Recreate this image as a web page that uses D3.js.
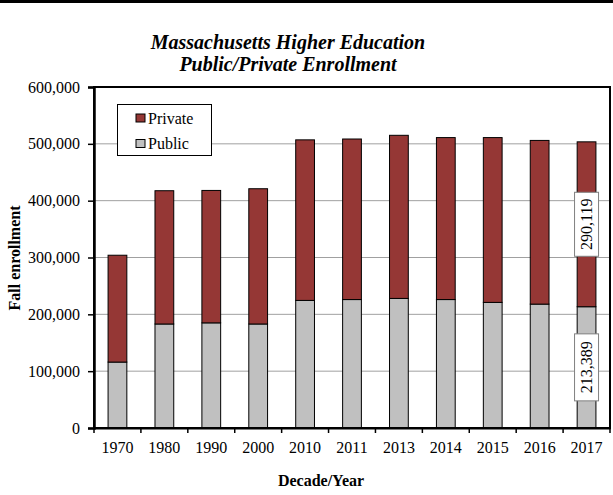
<!DOCTYPE html>
<html><head><meta charset="utf-8">
<script src="https://cdn.jsdelivr.net/npm/d3@7"></script>
<style>body{margin:0;background:#fff}svg{display:block}</style>
</head><body>
<script>
const years = ["1970","1980","1990","2000","2010","2011","2013","2014","2015","2016","2017"];
const publicVals = [116000,183000,185000,183000,224500,226000,228000,226000,221000,218000,213389];
const privateVals = [188000,234500,233000,238000,282500,282500,287000,285000,290000,288000,290119];
const yTicks = [0,100000,200000,300000,400000,500000,600000];
const seriesNames = ["Private","Public"];
const colors = {Private:"#953735", Public:"#c0c0c0"};
const titleLines = ["Massachusetts Higher Education","Public/Private Enrollment"];

const W=613,H=495;
const m={left:94,right:610,top:87,bottom:428};
const font="'Liberation Serif','Times New Roman',serif";
const svg=d3.select("body").append("svg").attr("width",W).attr("height",H);
svg.append("rect").attr("width",W).attr("height",H).attr("fill","#fff");
svg.append("rect").attr("x",0).attr("y",0).attr("width",W).attr("height",3).attr("fill","#000");

const x=d3.scaleBand().domain(years).range([m.left,m.right]).paddingInner(0.6).paddingOuter(0.3);
const y=d3.scaleLinear().domain([0,600000]).range([m.bottom,m.top]);

// gridlines
svg.append("g").selectAll("line").data(yTicks.slice(1,-1)).join("line")
  .attr("x1",m.left).attr("x2",m.right).attr("y1",d=>y(d)).attr("y2",d=>y(d))
  .attr("stroke","#a0a0a0").attr("stroke-width",1);

// bars
const data=years.map((yr,i)=>({yr,pub:publicVals[i],priv:privateVals[i]}));
const g=svg.append("g");
g.selectAll("rect.pub").data(data).join("rect").attr("class","pub")
  .attr("x",d=>x(d.yr)).attr("width",x.bandwidth())
  .attr("y",d=>y(d.pub)).attr("height",d=>y(0)-y(d.pub))
  .attr("fill",colors.Public).attr("stroke","#000").attr("stroke-width",1);
g.selectAll("rect.priv").data(data).join("rect").attr("class","priv")
  .attr("x",d=>x(d.yr)).attr("width",x.bandwidth())
  .attr("y",d=>y(d.pub+d.priv)).attr("height",d=>y(d.pub)-y(d.pub+d.priv))
  .attr("fill",colors.Private).attr("stroke","#000").attr("stroke-width",1);

// plot frame
svg.append("rect").attr("x",m.left).attr("y",m.top).attr("width",m.right-m.left).attr("height",m.bottom-m.top)
  .attr("fill","none").attr("stroke","#000").attr("stroke-width",2);

// y axis
const yAxis=d3.axisLeft(y).tickValues(yTicks).tickSize(6).tickPadding(8).tickFormat(d3.format(","));
const ya=svg.append("g").attr("transform",`translate(${m.left},0)`).call(yAxis);
ya.select(".domain").attr("stroke","#000").attr("stroke-width",2.5);
ya.selectAll(".tick line").attr("stroke","#000").attr("stroke-width",1.5);
ya.selectAll("text").attr("font-family",font).attr("font-size",16).attr("fill","#000");

// x axis with ticks at band boundaries
const xa=svg.append("g").attr("transform",`translate(0,${m.bottom})`).call(d3.axisBottom(x).tickSize(0).tickPadding(14));
xa.select(".domain").attr("stroke","#000").attr("stroke-width",2);
xa.selectAll("text").attr("font-family",font).attr("font-size",16).attr("fill","#000");
const bounds=d3.range(years.length+1).map(i=>m.left+i*(m.right-m.left)/years.length);
svg.append("g").selectAll("line").data(bounds).join("line")
  .attr("x1",d=>d).attr("x2",d=>d).attr("y1",m.bottom).attr("y2",m.bottom+5)
  .attr("stroke","#000").attr("stroke-width",1.5);

// data labels on last bar
const last=data[data.length-1];
const cx=x(last.yr)+x.bandwidth()/2;
const labs=[{v:last.priv,cy:(y(last.pub+last.priv)+y(last.pub))/2,h:64},{v:last.pub,cy:(y(last.pub)+y(0))/2,h:67}];
labs.forEach(l=>{
  svg.append("rect").attr("x",cx-12).attr("y",l.cy-l.h/2).attr("width",24).attr("height",l.h)
    .attr("fill","#fff").attr("stroke","#808080").attr("stroke-width",1);
  svg.append("text").attr("transform",`translate(${cx+5.5},${l.cy}) rotate(-90)`)
    .attr("text-anchor","middle").attr("font-family",font).attr("font-size",16).attr("fill","#000")
    .text(d3.format(",")(l.v));
});

// legend
svg.append("rect").attr("x",117.5).attr("y",104.5).attr("width",94).attr("height",51)
  .attr("fill","#fff").attr("stroke","#000").attr("stroke-width",1);
seriesNames.forEach((s,i)=>{
  const yy=114+i*25.5;
  svg.append("rect").attr("x",136).attr("y",yy).attr("width",9).attr("height",8)
    .attr("fill",colors[s]).attr("stroke","#000").attr("stroke-width",1);
  svg.append("text").attr("x",148).attr("y",yy+9.5).attr("font-family",font).attr("font-size",16).attr("fill","#000").text(s);
});

// titles
titleLines.forEach((t,i)=>{
  svg.append("text").attr("x",288).attr("y",49+i*22).attr("text-anchor","middle")
    .attr("font-family",font).attr("font-size",20).attr("font-weight","bold").attr("font-style","italic").text(t);
});
svg.append("text").attr("x",321).attr("y",486).attr("text-anchor","middle")
  .attr("font-family",font).attr("font-size",16).attr("font-weight","bold").text("Decade/Year");
svg.append("text").attr("transform","translate(20,258) rotate(-90)").attr("text-anchor","middle")
  .attr("font-family",font).attr("font-size",16).attr("font-weight","bold").text("Fall enrollment");
</script>
</body></html>
